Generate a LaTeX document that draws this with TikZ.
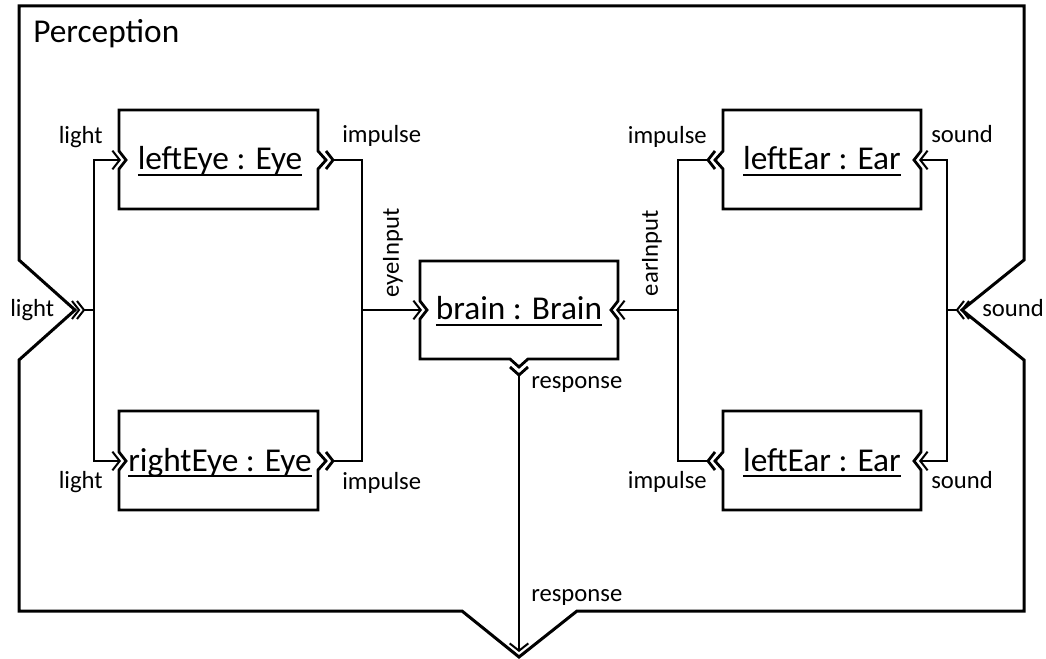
\documentclass[tikz,border=0pt]{standalone}
\usepackage{fontspec}
\setmainfont{Carlito}
\usetikzlibrary{arrows.meta,calc,positioning}

% underlined part name
\newcommand\ulname[1]{\setbox0\hbox{#1}\rlap{\rule[-4.2pt]{\wd0}{1.2pt}}\box0}

\begin{document}
\begin{tikzpicture}[x=0.75pt,y=-0.75pt,
    every node/.style={font=\fontsize{18.5}{20}\selectfont,inner sep=0pt},
    part/.style={font=\fontsize{25}{28}\selectfont,anchor=base},
    frame/.style={line width=2.25pt,line join=miter},
    border/.style={line width=2.1pt,line join=miter},
    wire/.style={line width=1.5pt},
    flow/.style={wire,-{Straight Barb[length=5.5pt,width=14pt]}}]

    \useasboundingbox (0,0) rectangle (1046,659);

    % outer frame with its three ports
    \draw[frame] (19,6) -- (1024,6) -- (1024,260) -- (962,310) -- (1024,360) -- (1024,611)
      -- (577,611) -- (519,657) -- (462,611) -- (19,611) -- (19,360) -- (75,310) -- (19,260) -- cycle;
    \node[part,anchor=base west] (perception) at (33,43) {Perception};
    \draw[wire] (72,301) -- (79,310) -- (72,319);
    \draw[wire] (77,301) -- (84,310) -- (77,319);
    \draw[wire] (969,301) -- (962,310) -- (969,319);
    \draw[wire] (964,301) -- (957,310) -- (964,319);
    \coordinate (lightPort) at (84,310);
    \coordinate (soundPort) at (957,310);
    \coordinate (responsePort) at (519,652);

    % eyes: input left, output right
    \foreach \n/\y/\t in {leftEye/160/leftEye : Eye,rightEye/461/rightEye : Eye} {
      \draw[border] (119,\y-50) -- (318,\y-50) -- (318,\y-9) -- (326,\y) -- (318,\y+9) -- (318,\y+49)
        -- (119,\y+49) -- (119,\y+9) -- (126,\y) -- (119,\y-9) -- cycle;
      \draw[border] (326,\y-9) -- (333,\y) -- (326,\y+9);
      \node[part] (\n) at (220,\y+10) {\ulname{\t}};
      \coordinate (\n-in) at (121,\y);
      \coordinate (\n-out) at (333,\y);
    }

    % ears: input right, output left
    \foreach \n/\y/\t in {leftEar/160/leftEar : Ear,lowerEar/461/leftEar : Ear} {
      \draw[border] (723,\y-50) -- (921,\y-50) -- (921,\y-9) -- (914,\y) -- (921,\y+9) -- (921,\y+49)
        -- (723,\y+49) -- (723,\y+9) -- (715,\y) -- (723,\y-9) -- cycle;
      \draw[border] (715,\y-9) -- (708,\y) -- (715,\y+9);
      \node[part] (\n) at (822,\y+10) {\ulname{\t}};
      \coordinate (\n-in) at (919,\y);
      \coordinate (\n-out) at (708,\y);
    }

    % brain
    \draw[border] (420,261) -- (618,261) -- (618,301) -- (611,310) -- (618,319) -- (618,359)
      -- (528,359) -- (519,367) -- (510,359) -- (420,359) -- (420,319) -- (427,310) -- (420,301) -- cycle;
    \draw[border] (510,367) -- (519,375) -- (528,367);
    \node[part] (brain) at (519,320) {\ulname{brain : Brain}};
    \coordinate (brain-left) at (422,310);
    \coordinate (brain-right) at (616,310);
    \coordinate (brain-out) at (519,375);

    % connectors
    \coordinate (lightJoin) at (94,310);
    \coordinate (eyeJoin) at (362,310);
    \coordinate (earJoin) at (678,310);
    \coordinate (soundJoin) at (947,310);
    \draw[wire] (lightPort) -- (lightJoin);
    \draw[flow] (lightJoin) |- (leftEye-in);
    \draw[flow] (lightJoin) |- (rightEye-in);
    \draw[wire] (leftEye-out) -| (eyeJoin);
    \draw[wire] (rightEye-out) -| (eyeJoin);
    \draw[flow] (eyeJoin) -- (brain-left);
    \draw[wire] (leftEar-out) -| (earJoin);
    \draw[wire] (lowerEar-out) -| (earJoin);
    \draw[flow] (earJoin) -- (brain-right);
    \draw[wire] (soundPort) -- (soundJoin);
    \draw[flow] (soundJoin) |- (leftEar-in);
    \draw[flow] (soundJoin) |- (lowerEar-in);
    \draw[flow] (brain-out) -- (responsePort);

    % labels
    \node[anchor=base west] (lightOuter) at (10,317) {light};
    \node[anchor=base east] (lightTop) at (103,144) {light};
    \node[anchor=base east] (lightBottom) at (103,488) {light};
    \node[anchor=base west] (eyeImpTop) at (342,143) {impulse};
    \node[anchor=base west] (eyeImpBottom) at (342,489) {impulse};
    \node[rotate=90] (eyeInput) at (393,253) {eyeInput};
    \node[rotate=90] (earInput) at (652,253) {earInput};
    \node[anchor=base east] (earImpTop) at (707,144) {impulse};
    \node[anchor=base east] (earImpBottom) at (707,488) {impulse};
    \node[anchor=base west] (soundTop) at (931,143) {sound};
    \node[anchor=base west] (soundBottom) at (931,488) {sound};
    \node[anchor=base west] (soundOuter) at (982,317) {sound};
    \node[anchor=base west] (responseInner) at (531,388) {response};
    \node[anchor=base west] (responseOuter) at (531,601) {response};
  \end{tikzpicture}
\end{document}
